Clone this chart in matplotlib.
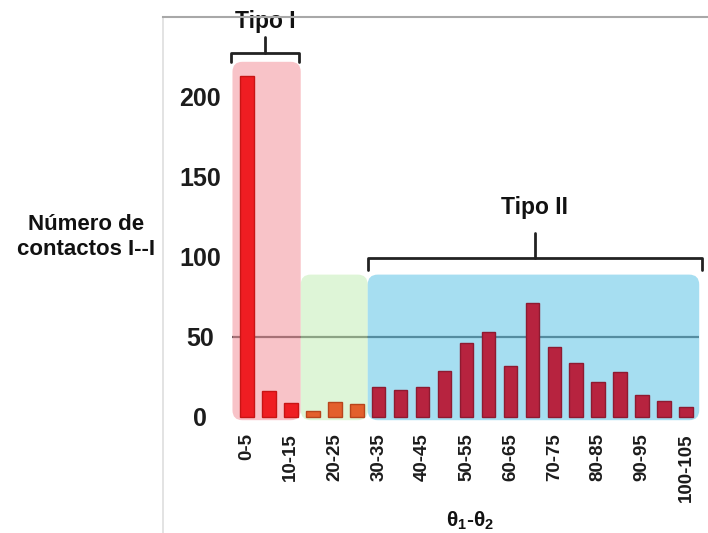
import matplotlib
matplotlib.use("Agg")
import matplotlib.pyplot as plt
from matplotlib.patches import FancyBboxPatch
from matplotlib.lines import Line2D

# Histogram of I--I contacts by angle difference (5-degree bins)
bins = ["0-5", "5-10", "10-15", "15-20", "20-25", "25-30", "30-35", "35-40",
        "40-45", "45-50", "50-55", "55-60", "60-65", "65-70", "70-75", "75-80",
        "80-85", "85-90", "90-95", "95-100", "100-105"]
counts = [213, 16, 9, 4, 9.5, 8, 19, 17, 19, 29, 46, 53, 32, 71, 44, 34,
          22, 28, 14, 10, 6]
groups = ["I"] * 3 + ["mid"] * 3 + ["II"] * 15
y_ticks = [0, 50, 100, 150, 200]
reference_level = 50

plt.rcParams["font.family"] = ["Liberation Sans", "DejaVu Sans"]
plt.rcParams["font.weight"] = "bold"
plt.rcParams["mathtext.fontset"] = "custom"
plt.rcParams["mathtext.bf"] = "Liberation Sans:bold"
plt.rcParams["mathtext.rm"] = "Liberation Sans:bold"

W, H = 708, 533
fig = plt.figure(figsize=(W / 100, H / 100), dpi=100)

# axes placed in pixel units
L, R, T, B = 225, 708, 17, 425
ax = fig.add_axes([L / W, 1 - B / H, (R - L) / W, (B - T) / H])
ax.set_xlim(-1, 21)
ax.set_ylim(-5, 250)
for s in ax.spines.values():
    s.set_visible(False)

# outer frame lines
fig.add_artist(Line2D([163 / W, 163 / W], [0, 1 - 17 / H], color="#dedede", lw=1.2))
fig.add_artist(Line2D([163 / W, 1], [1 - 17 / H, 1 - 17 / H], color="#a8a8a8", lw=1.5))

# aspect between x and y data units in pixels for round corners
px_x = (R - L) / 22.0
px_y = (B - T) / 255.0
aspect = px_x / px_y
rad = 10 / px_x

bar_colors = {"I": "#ef1d22", "mid": "#e3602c", "II": "#b7233f"}
edge_colors = {"I": "#c81414", "mid": "#b8451c", "II": "#8e1a31"}
box_specs = [("I", -0.66, 2.45, 222, "#f3939c"),
             ("mid", 2.45, 5.5, 89, "#c4edb6"),
             ("II", 5.5, 20.6, 89, "#5ec3e7")]

# reference level line (sits under translucent shading)
ax.plot([-0.66, 20.6], [reference_level, reference_level], color="#4a4a4a",
        lw=1.6, zorder=1, solid_capstyle="butt")

for name, x0, x1, top, col in box_specs:
    box = FancyBboxPatch((x0, -2), x1 - x0, top + 2,
                         boxstyle=f"round,pad=0,rounding_size={rad}",
                         mutation_aspect=aspect, fc=col, ec="none",
                         alpha=0.55, zorder=2)
    ax.add_patch(box)

xs = list(range(len(bins)))
ax.bar(xs, counts, width=0.62, bottom=0,
       color=[bar_colors[g] for g in groups],
       edgecolor=[edge_colors[g] for g in groups], linewidth=1.0, zorder=3)

# ticks
ax.set_yticks(y_ticks)
ax.set_yticklabels([str(v) for v in y_ticks], fontsize=18, fontweight="bold",
                   color="#1c1c1c", ha="center")
ax.tick_params(axis="y", length=0, pad=18)
ax.set_xticks(xs[::2])
ax.set_xticklabels(bins[::2], rotation=90, fontsize=13.5, fontweight="bold",
                   color="#1c1c1c")
ax.tick_params(axis="x", length=0, pad=6)


def bracket(x0, x1, y, drop, rise):
    xm = (x0 + x1) / 2
    kw = dict(color="#222222", lw=2.0, solid_joinstyle="round",
              solid_capstyle="round", clip_on=False, zorder=4)
    ax.plot([x0, x0, x1, x1], [y - drop, y, y, y - drop], **kw)
    ax.plot([xm, xm], [y, y + rise], **kw)
    return xm


xm1 = bracket(-0.73, 2.37, 227.5, 5.5, 10)
ax.text(xm1, 243, "Tipo I", ha="center", va="baseline", fontsize=16.5,
        fontweight="bold", color="#111111", clip_on=False, zorder=5)
xm2 = bracket(5.51, 20.73, 99.5, 7.5, 15.5)
ax.text(xm2, 127, "Tipo II", ha="center", va="baseline", fontsize=16.5,
        fontweight="bold", color="#111111", zorder=5)

fig.text(86 / W, 1 - 237 / H, "Número de\ncontactos I--I", ha="center",
         va="center", fontsize=16, fontweight="bold", linespacing=1.2,
         color="#111111")
fig.text(470 / W, 1 - 521 / H, r"$\mathbf{θ_1}$-$\mathbf{θ_2}$", ha="center",
         va="center", fontsize=15, fontweight="bold", color="#111111")

fig.savefig("out.png", dpi=100)
